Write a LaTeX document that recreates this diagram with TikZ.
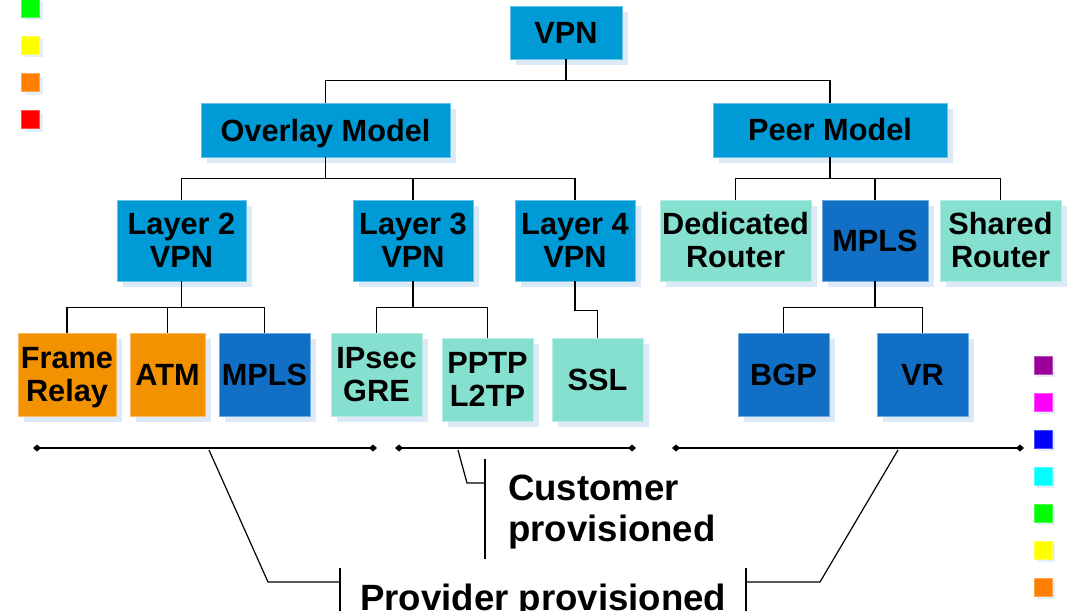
\documentclass[tikz,border=0pt]{standalone}
\usepackage{fontspec}
\setmainfont{Liberation Sans}
\usetikzlibrary{positioning,shadows,arrows.meta}

\definecolor{vpnblue}{RGB}{0,155,214}
\definecolor{mplsblue}{RGB}{17,112,198}
\definecolor{tealbox}{RGB}{134,224,208}
\definecolor{orangebox}{RGB}{243,146,0}
\definecolor{shadowblue}{RGB}{185,212,240}
\definecolor{lpurple}{RGB}{153,0,153}
\definecolor{lmagenta}{RGB}{255,0,255}
\definecolor{lblue}{RGB}{0,0,255}
\definecolor{lcyan}{RGB}{0,255,255}
\definecolor{lgreen}{RGB}{0,255,0}
\definecolor{lyellow}{RGB}{255,255,0}
\definecolor{lorange}{RGB}{255,128,0}
\definecolor{lred}{RGB}{255,0,0}

\begin{document}
\begin{tikzpicture}[x=1pt,y=-1pt,
  vpnbox/.style={draw=#1!60!white, fill=#1, line width=0.6pt, inner sep=0pt, align=center,
    font=\fontsize{30.7}{33}\selectfont\bfseries,
    drop shadow={fill=shadowblue, opacity=0.5, shadow xshift=6pt, shadow yshift=-6pt}},
  legsq/.style={draw=#1!70!white, fill=#1, line width=0.5pt, inner sep=0pt, minimum size=18pt,
    drop shadow={fill=shadowblue, opacity=0.4, shadow xshift=3pt, shadow yshift=-3pt}},
  wire/.style={line width=1.2pt},
  span/.style={line width=1.3pt, {Diamond[length=8pt,width=7pt]}-{Diamond[length=8pt,width=7pt]}},
  bigtext/.style={font=\fontsize{36.6}{41}\selectfont\bfseries, inner sep=0pt}]
\useasboundingbox (0,0) rectangle (1086,610);
\clip (0,0) rectangle (1086,610);

\foreach \c [count=\i] in {lgreen,lyellow,lorange,lred}
  \node[legsq=\c] (left\i) at (30.5,{8.5+37*(\i-1)}) {};
\foreach \c [count=\i] in {lpurple,lmagenta,lblue,lcyan,lgreen,lyellow,lorange}
  \node[legsq=\c] (right\i) at (1043,{365+37*(\i-1)}) {};

\node[vpnbox=vpnblue, minimum width=112pt, minimum height=53pt] (vpn) at (566,32.5) {VPN};
\node[vpnbox=vpnblue, minimum width=249pt, minimum height=54pt, text depth=0pt] (overlay) at (325.5,130) {Overlay Model};
\node[vpnbox=vpnblue, minimum width=234pt, minimum height=54pt] (peer) at (830,130) {Peer Model};

\node[vpnbox=vpnblue, minimum width=129pt, minimum height=81pt] (l2) at (181.5,240.5) {Layer 2\\VPN};
\node[vpnbox=vpnblue, minimum width=120pt, minimum height=81pt] (l3) at (413,240.5) {Layer 3\\VPN};
\node[vpnbox=vpnblue, minimum width=120pt, minimum height=81pt] (l4) at (575,240.5) {Layer 4\\VPN};
\node[vpnbox=tealbox, minimum width=151pt, minimum height=81pt] (dedicated) at (735.5,240.5) {Dedicated\\Router};
\node[vpnbox=mplsblue, minimum width=106pt, minimum height=81pt] (mpls) at (875,240.5) {MPLS};
\node[vpnbox=tealbox, minimum width=121pt, minimum height=81pt] (shared) at (1000.5,240.5) {Shared\\Router};

\node[vpnbox=orangebox, minimum width=98pt, minimum height=83pt, text depth=0pt] (frame) at (67,374.5) {Frame\\Relay};
\node[vpnbox=orangebox, minimum width=75pt, minimum height=83pt] (atm) at (167.5,374.5) {ATM};
\node[vpnbox=mplsblue, minimum width=91pt, minimum height=83pt] (mplstwo) at (264.5,374.5) {MPLS};
\node[vpnbox=tealbox, minimum width=91pt, minimum height=83pt] (ipsec) at (376.5,374.5) {IPsec\\GRE};
\node[vpnbox=tealbox, minimum width=91pt, minimum height=83pt] (pptp) at (487.5,379.5) {PPTP\\L2TP};
\node[vpnbox=tealbox, minimum width=91pt, minimum height=83pt] (ssl) at (597.5,379.5) {SSL};
\node[vpnbox=mplsblue, minimum width=91pt, minimum height=83pt] (bgp) at (783.5,374.5) {BGP};
\node[vpnbox=mplsblue, minimum width=91pt, minimum height=83pt] (vr) at (922.5,374.5) {VR};

\draw[wire] (vpn.south) -- ++(0,21) -| (overlay.north);
\draw[wire] (vpn.south) -- ++(0,21) -| (peer.north);
\draw[wire] (overlay.south) -- ++(0,21) -| (l2.north);
\draw[wire] (overlay.south) -- ++(0,21) -| (l3.north);
\draw[wire] (overlay.south) -- ++(0,21) -| (l4.north);
\draw[wire] (peer.south) -- ++(0,21) -| (dedicated.north);
\draw[wire] (peer.south) -- ++(0,21) -| (mpls.north);
\draw[wire] (peer.south) -- ++(0,21) -| (shared.north);
\draw[wire] (l2.south) -- ++(0,26) -| (frame.north);
\draw[wire] (l2.south) -- ++(0,26) -| (atm.north);
\draw[wire] (l2.south) -- ++(0,26) -| (mplstwo.north);
\draw[wire] (l3.south) -- ++(0,26) -| (ipsec.north);
\draw[wire] (l3.south) -- ++(0,26) -| (pptp.north);
\draw[wire] (l4.south) -- ++(0,29) -| (ssl.north);
\draw[wire] (mpls.south) -- ++(0,26) -| (bgp.north);
\draw[wire] (mpls.south) -- ++(0,26) -| (vr.north);

\coordinate (pa) at (33,448);
\coordinate (pb) at (377,448);
\coordinate (ca) at (395,448);
\coordinate (cb) at (636,448);
\coordinate (qa) at (672,448);
\coordinate (qb) at (1024,448);
\draw[span] (pa) -- (pb);
\draw[span] (ca) -- (cb);
\draw[span] (qa) -- (qb);

\node[bigtext, anchor=north west, align=left] (cust) at (508,474.5) {Customer\\provisioned};
\node[bigtext, anchor=base west] (prov) at (360,610) {Provider provisioned};

\draw[wire] (485,459) -- (485,559);
\draw[wire] (458,450) -- (467,483) -- (485,483);
\draw[wire] (340,568) -- (340,615);
\draw[wire] (209,450) -- (268,582) -- (340,582);
\draw[wire] (746,568) -- (746,615);
\draw[wire] (746,582) -- (820,582) -- (898,450);
\end{tikzpicture}
\end{document}
